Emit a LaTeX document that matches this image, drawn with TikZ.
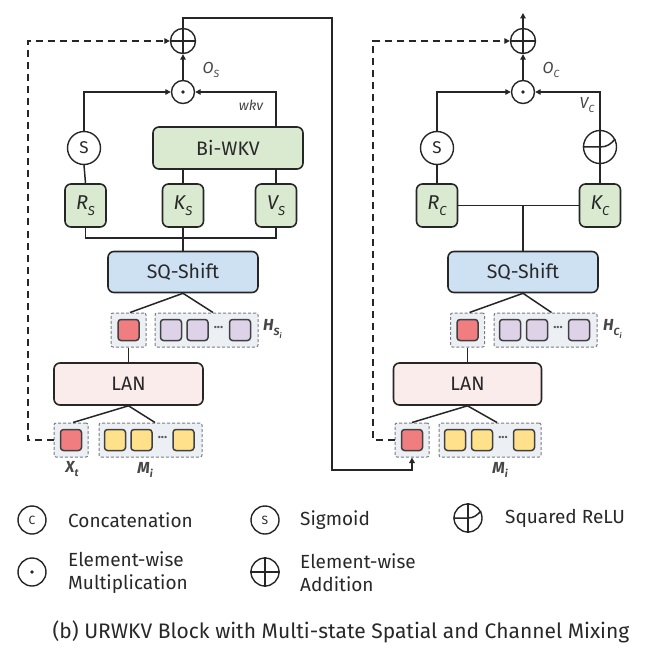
\documentclass[tikz,border=0pt]{standalone}
\usepackage{fontspec}
\setmainfont{Fira Sans}
\usetikzlibrary{arrows.meta,calc}
\definecolor{txt}{RGB}{40,40,40}
\definecolor{lbl}{RGB}{70,70,70}
\definecolor{gfill}{RGB}{218,234,208}
\definecolor{bfill}{RGB}{206,225,243}
\definecolor{pfill}{RGB}{251,236,236}
\definecolor{rfill}{RGB}{240,125,128}
\definecolor{vfill}{RGB}{221,210,232}
\definecolor{yfill}{RGB}{255,225,140}
\definecolor{grpfill}{RGB}{236,240,245}
\definecolor{grpline}{RGB}{120,125,130}
\newcommand\sublab[3]{{\fontsize{#3}{#3}\selectfont\itshape #1\raisebox{-0.3em}{\fontsize{0.65\dimexpr#3pt\relax}{1}\selectfont #2}}}
\begin{document}
\begin{tikzpicture}[x=1pt,y=-1pt,
  every node/.style={text=txt},
  blk/.style={draw=black!85, line width=1.6pt, rounded corners=6pt, minimum width=150pt, minimum height=42pt, inner sep=0pt, font=\fontsize{19.5}{21}\selectfont},
  qbox/.style={draw=black!85, line width=1.6pt, rounded corners=6pt, minimum width=41pt, minimum height=43pt, inner sep=0pt, fill=gfill},
  sqr/.style={draw=black!75, line width=1.5pt, rounded corners=3pt, minimum size=21pt, inner sep=0pt},
  grp/.style={draw=grpline, dash pattern=on 3pt off 2pt, line width=1pt, fill=grpfill, rounded corners=2pt, minimum height=34pt, inner sep=0pt},
  opc/.style={circle, draw=black!85, line width=1.4pt, inner sep=0pt},
  conn/.style={draw=black!85, line width=1.5pt},
  arr/.style={conn, -{Triangle[length=5.5pt,width=5.5pt]}},
  dsh/.style={conn, dash pattern=on 7pt off 5pt, -{Triangle[length=5.5pt,width=5.5pt]}},
  dots/.style={inner sep=0pt, font=\fontsize{13}{13}\selectfont\bfseries, text=black!65},
  lab/.style={inner sep=0pt, text=lbl},
  legt/.style={inner sep=0pt, anchor=west, align=left, font=\fontsize{19}{23}\selectfont}
]
\useasboundingbox (0,0) rectangle (655,652);

% ================= LEFT (spatial mixing) =================
\node[opc, minimum size=25pt] (pl) at (183,41) {};
\draw[conn] (pl.north) -- (pl.south) (pl.west) -- (pl.east);
\node[opc, minimum size=23pt] (ml) at (183,92) {};
\fill[black!85] (ml.center) circle (1.8pt);
\node[opc, minimum size=33pt, font=\fontsize{17}{17}\selectfont] (sl) at (84,148) {S};
\node[blk, fill=gfill] (bi) at (228,148) {Bi-WKV};
\node[qbox] (rs) at (85.5,205.5) {\sublab{R}{S}{20}};
\node[qbox] (ks) at (183,205.5) {\sublab{K}{S}{20}};
\node[qbox] (vs) at (276,205.5) {\sublab{V}{S}{20}};
\coordinate (bl) at (85.5,238);
\coordinate (bm) at (183,238);
\coordinate (br) at (276,238);
\node[blk, fill=bfill, minimum height=41pt] (sq) at (183,272) {SQ-Shift};
\node[grp, minimum width=35pt] (g1) at (128.5,330) {};
\node[sqr, fill=rfill] (r1) at (128.5,330) {};
\node[grp, minimum width=103pt] (g2) at (206.5,330) {};
\node[sqr, fill=vfill] (p1) at (171,330) {};
\node[sqr, fill=vfill] (p2) at (197.5,330) {};
\node[dots] (d1) at (218.5,329) {···};
\node[sqr, fill=vfill] (p3) at (240,330) {};
\node[lab, anchor=west, font=\bfseries] (hs) at (263,329) {\sublab{H}{S\textsubscript{i}}{16}};
\node[blk, fill=pfill, minimum width=149pt] (lan) at (128.5,384) {LAN};
\node[grp, minimum width=34pt] (g3) at (71,440) {};
\node[sqr, fill=rfill] (r2) at (71,440) {};
\node[grp, minimum width=103pt] (g4) at (150.5,440) {};
\node[sqr, fill=yfill] (y1) at (115,440) {};
\node[sqr, fill=yfill] (y2) at (141.5,440) {};
\node[dots] (d2) at (162.5,439) {···};
\node[sqr, fill=yfill] (y3) at (183.5,440) {};
\node[lab, font=\bfseries] (xt) at (72,469) {\sublab{X}{t}{16}};
\node[lab, font=\bfseries] (mi) at (145,470) {\sublab{M}{i}{16}};
\node[lab] (os) at (211,70) {\sublab{O}{S}{16}};
\node[lab, font=\itshape\fontsize{14}{14}\selectfont] (wkv) at (251,105) {wkv};

\draw[arr] (ml.north) -- (pl.south);
\draw[arr] (sl.north) |- (ml.west);
\draw[arr] (bi.north -| vs.north) |- (ml.east);
\draw[conn] (rs.north) -- (sl.south);
\draw[conn] (ks.north) -- (ks.north |- bi.south);
\draw[conn] (vs.north) -- (vs.north |- bi.south);
\draw[conn] (rs.south) -- (bl) -- (br) -- (vs.south);
\draw[conn] (ks.south) -- (sq.north);
\draw[conn] (sq.south) -- ([xshift=1.5pt]g1.north);
\draw[conn] (sq.south) -- ([xshift=6.5pt]g2.north);
\draw[conn] (g1.south) -- (lan.north);
\draw[conn] (lan.south) -- ([xshift=2pt]g3.north);
\draw[conn] (lan.south) -- ([xshift=4.5pt]g4.north);
\coordinate (dl1) at (28,440);
\coordinate (dl2) at (28,41);
\draw[dsh] (g3.west) -- (dl1) -- (dl2) -- (pl.west);

% ================= RIGHT (channel mixing) =================
\node[opc, minimum size=25pt] (pr) at (523,41) {};
\draw[conn] (pr.north) -- (pr.south) (pr.west) -- (pr.east);
\coordinate (top) at (523,13);
\node[opc, minimum size=23pt] (mr) at (523,92) {};
\fill[black!85] (mr.center) circle (1.8pt);
\node[opc, minimum size=33pt, font=\fontsize{17}{17}\selectfont] (sr) at (437,148) {S};
\node[opc, minimum size=33pt] (rl) at (600,147) {};
\draw[conn] (rl.north) -- (rl.south);
\draw[conn] (rl.west) -- (rl.center) .. controls ($(rl.center)+(7,0)$) and ($(rl.center)+(11,-3)$) .. (rl.28);
\node[qbox] (rc) at (437,205.5) {\sublab{R}{C}{20}};
\node[qbox] (kc) at (600,205.5) {\sublab{K}{C}{20}};
\coordinate (bc) at (523,205.5);
\node[blk, fill=bfill, minimum height=41pt] (sq2) at (523,272) {SQ-Shift};
\node[grp, minimum width=34pt] (g5) at (467.5,330) {};
\node[sqr, fill=rfill] (r3) at (467.5,330) {};
\node[grp, minimum width=103pt] (g6) at (545.5,330) {};
\node[sqr, fill=vfill] (p4) at (510,330) {};
\node[sqr, fill=vfill] (p5) at (537,330) {};
\node[dots] (d3) at (558,329) {···};
\node[sqr, fill=vfill] (p6) at (579,330) {};
\node[lab, anchor=west, font=\bfseries] (hc) at (603,329) {\sublab{H}{C\textsubscript{i}}{16}};
\node[blk, fill=pfill, minimum width=148pt] (lan2) at (467.5,384) {LAN};
\node[grp, minimum width=34pt] (g7) at (412,440) {};
\node[sqr, fill=rfill] (r4) at (412,440) {};
\node[grp, minimum width=102pt] (g8) at (490,440) {};
\node[sqr, fill=yfill] (y4) at (455,440) {};
\node[sqr, fill=yfill] (y5) at (482,440) {};
\node[dots] (d4) at (503,439) {···};
\node[sqr, fill=yfill] (y6) at (524,440) {};
\node[lab, font=\bfseries] (mi2) at (500,470) {\sublab{M}{i}{16}};
\node[lab] (oc) at (551,70) {\sublab{O}{C}{16}};
\node[lab] (vc) at (587,105) {\sublab{V}{C}{16}};

\draw[arr] (mr.north) -- (pr.south);
\draw[arr] (pr.north) -- (top);
\draw[arr] (sr.north) |- (mr.west);
\draw[arr] (rl.north) |- (mr.east);
\draw[conn] (rc.north) -- (sr.south);
\draw[conn] (kc.north) -- (rl.south);
\draw[conn] (rc.east) -- (kc.west);
\draw[conn] (bc) -- (sq2.north);
\draw[conn] (sq2.south) -- ([xshift=2pt]g5.north);
\draw[conn] (sq2.south) -- ([xshift=6pt]g6.north);
\draw[conn] (g5.south) -- (lan2.north);
\draw[conn] (lan2.south) -- (g7.north);
\draw[conn] (lan2.south) -- ([xshift=7pt]g8.north);
\coordinate (dr1) at (373,440);
\coordinate (dr2) at (373,41);
\draw[dsh] (g7.west) -- (dr1) -- (dr2) -- (pr.west);

% ================= skip connection left -> right =================
\coordinate (s1) at (183,18);
\coordinate (s2) at (332,18);
\coordinate (s3) at (332,470);
\coordinate (s4) at (412,470);
\draw[arr] (pl.north) -- (s1) -- (s2) -- (s3) -- (s4) -- (g7.south);

% ================= legend =================
\node[opc, minimum size=28pt, font=\fontsize{12}{12}\selectfont] (lc) at (32,520) {C};
\node[legt] (tc) at (68,520) {Concatenation};
\node[opc, minimum size=28pt, font=\fontsize{12}{12}\selectfont] (ls) at (265,520) {S};
\node[legt] (ts) at (300,520) {Sigmoid};
\node[opc, minimum size=28pt] (lr) at (468,518) {};
\draw[conn] (lr.north) -- (lr.south);
\draw[conn] (lr.west) -- (lr.center) .. controls ($(lr.center)+(6,0)$) and ($(lr.center)+(9,-3)$) .. (lr.28);
\node[legt] (tr) at (505,518) {Squared ReLU};
\node[opc, minimum size=28pt] (lm) at (32,572) {};
\fill[black!85] (lm.center) circle (1.8pt);
\node[legt] (tm) at (68,573) {Element-wise\\Multiplication};
\node[opc, minimum size=28pt] (la) at (265,572) {};
\draw[conn] (la.north) -- (la.south) (la.west) -- (la.east);
\node[legt] (ta) at (300,573) {Element-wise\\Addition};
\node[inner sep=0pt, font=\fontsize{21}{23}\selectfont] (cap) at (341,632) {(b) URWKV Block with Multi-state Spatial and Channel Mixing};
\end{tikzpicture}
\end{document}
